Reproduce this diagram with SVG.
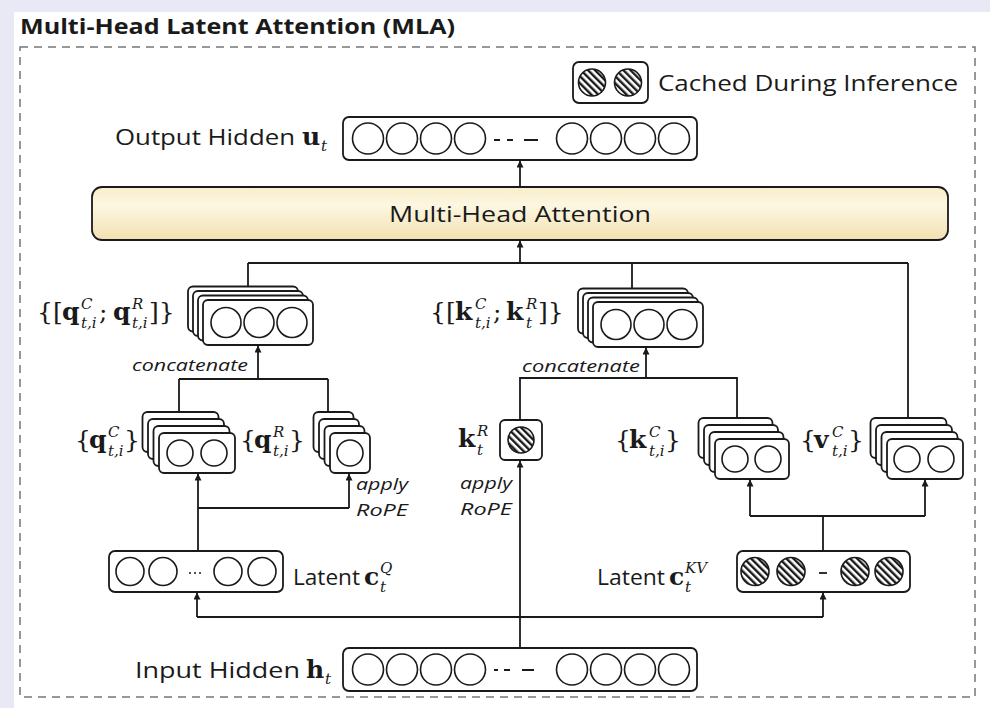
<svg xmlns="http://www.w3.org/2000/svg" width="990" height="708" viewBox="0 0 990 708">
<style>
.sans{font-family:"Open Sans","Noto Sans","Liberation Sans",sans-serif;fill:#1a1a1a}
.lbl{font-size:22px}
.it{font-style:italic;font-size:17px}
.m{font-family:"DejaVu Serif","Liberation Serif",serif;fill:#1a1a1a;font-size:25px}
.mb{font-weight:bold}
.s{font-family:"DejaVu Serif","Liberation Serif",serif;font-style:italic;font-size:15px;fill:#1a1a1a}
.box{fill:#fff;stroke:#1a1a1a;stroke-width:1.8}
.c{fill:#fff;stroke:#1a1a1a;stroke-width:1.6}
.h{fill:url(#hatch);stroke:#1a1a1a;stroke-width:1.6}
.ln{fill:none;stroke:#1a1a1a;stroke-width:1.8}
.ar{fill:none;stroke:#1a1a1a;stroke-width:1.8;marker-end:url(#ah)}
</style>
<defs>
<pattern id="hatch" patternUnits="userSpaceOnUse" width="5" height="5" patternTransform="rotate(-45)">
<rect width="5" height="5" fill="#fff"/>
<rect width="2.4" height="5" fill="#1a1a1a"/>
</pattern>
<marker id="ah" markerWidth="8" markerHeight="8" refX="7" refY="3.5" orient="auto" markerUnits="userSpaceOnUse">
<path d="M0,0 L7,3.5 L0,7 z" fill="#1a1a1a"/>
</marker>
<linearGradient id="mha" x1="0" y1="0" x2="0" y2="1">
<stop offset="0" stop-color="#f9eecb"/>
<stop offset="0.35" stop-color="#fdf7e2"/>
<stop offset="1" stop-color="#f2e0b0"/>
</linearGradient>
</defs>

<rect width="990" height="708" fill="#e9e8f5"/>
<rect x="14" y="12" width="976" height="696" fill="#fff"/>
<rect x="20" y="47" width="955" height="650" fill="none" stroke="#777" stroke-width="1.5" stroke-dasharray="8 6"/>
<text class="sans" x="20" y="34" font-weight="bold" font-size="22" textLength="435" lengthAdjust="spacingAndGlyphs">Multi-Head Latent Attention (MLA)</text>

<g id="legend">
<rect class="box" x="573" y="62" width="75" height="41" rx="6"/>
<circle class="h" cx="592" cy="82.5" r="13.5"/>
<circle class="h" cx="628" cy="82.5" r="13.5"/>
<text class="sans lbl" x="658" y="91" textLength="300" lengthAdjust="spacingAndGlyphs">Cached During Inference</text>
</g>

<g id="output-hidden">
<text class="sans lbl" x="115" y="145" textLength="180" lengthAdjust="spacingAndGlyphs">Output Hidden</text>
<text class="m mb" x="302" y="145">u</text>
<text class="s" x="321" y="151">t</text>
<rect class="box" x="343" y="117" width="354" height="43" rx="6"/>
<circle class="c" cx="368" cy="138.5" r="15.5"/>
<circle class="c" cx="402" cy="138.5" r="15.5"/>
<circle class="c" cx="436" cy="138.5" r="15.5"/>
<circle class="c" cx="470" cy="138.5" r="15.5"/>
<circle class="c" cx="572" cy="138.5" r="15.5"/>
<circle class="c" cx="606" cy="138.5" r="15.5"/>
<circle class="c" cx="640" cy="138.5" r="15.5"/>
<circle class="c" cx="674" cy="138.5" r="15.5"/>
<path class="ln" stroke-width="1.3" d="M494,140h6 M507,140h6 M524,140h14"/>
</g>

<g id="mha">
<rect x="92" y="187" width="856" height="53" rx="10" fill="url(#mha)" stroke="#1a1a1a" stroke-width="1.8"/>
<text class="sans lbl" x="520" y="222" text-anchor="middle" textLength="262" lengthAdjust="spacingAndGlyphs">Multi-Head Attention</text>
</g>

<g id="q-concat">
<rect class="box" x="188" y="286.5" width="110" height="45" rx="5"/>
<rect class="box" x="193" y="291" width="110" height="45" rx="5"/>
<rect class="box" x="198" y="295.5" width="110" height="45" rx="5"/>
<rect class="box" x="203" y="300" width="110" height="45" rx="5"/>
<circle class="c" cx="226" cy="322.5" r="15"/>
<circle class="c" cx="259" cy="322.5" r="15"/>
<circle class="c" cx="292" cy="322.5" r="15"/>
<text class="m" x="37" y="320">{[</text>
<text class="m mb" x="62" y="320">q</text>
<text class="s" x="81" y="309">C</text>
<text class="s" x="81" y="328">t,i</text>
<text class="m" x="99" y="320">;</text>
<text class="m mb" x="113" y="320">q</text>
<text class="s" x="132" y="309">R</text>
<text class="s" x="132" y="328">t,i</text>
<text class="m" x="149" y="320">]}</text>
</g>

<g id="k-concat">
<rect class="box" x="578" y="288.5" width="110" height="45" rx="5"/>
<rect class="box" x="583" y="293" width="110" height="45" rx="5"/>
<rect class="box" x="588" y="297.5" width="110" height="45" rx="5"/>
<rect class="box" x="593" y="302" width="110" height="45" rx="5"/>
<circle class="c" cx="616" cy="324.5" r="15"/>
<circle class="c" cx="649" cy="324.5" r="15"/>
<circle class="c" cx="682" cy="324.5" r="15"/>
<text class="m" x="430" y="320">{[</text>
<text class="m mb" x="455" y="320">k</text>
<text class="s" x="475" y="309">C</text>
<text class="s" x="475" y="328">t,i</text>
<text class="m" x="493" y="320">;</text>
<text class="m mb" x="506" y="320">k</text>
<text class="s" x="526" y="309">R</text>
<text class="s" x="526" y="328">t</text>
<text class="m" x="538" y="320">]}</text>
</g>

<g id="q-c">
<rect class="box" x="142.5" y="412" width="76" height="40" rx="5"/>
<rect class="box" x="148" y="419" width="76" height="40" rx="5"/>
<rect class="box" x="153.5" y="426" width="76" height="40" rx="5"/>
<rect class="box" x="159" y="433" width="76" height="40" rx="5"/>
<circle class="c" cx="180" cy="453" r="13"/>
<circle class="c" cx="214" cy="453" r="13"/>
<text class="m" x="75" y="448">{</text>
<text class="m mb" x="89" y="448">q</text>
<text class="s" x="108" y="437">C</text>
<text class="s" x="108" y="456">t,i</text>
<text class="m" x="124" y="448">}</text>
</g>

<g id="q-r">
<rect class="box" x="313.5" y="412" width="40" height="40" rx="5"/>
<rect class="box" x="319" y="419" width="40" height="40" rx="5"/>
<rect class="box" x="324.5" y="426" width="40" height="40" rx="5"/>
<rect class="box" x="330" y="433" width="40" height="40" rx="5"/>
<circle class="c" cx="350" cy="453" r="13"/>
<text class="m" x="240" y="448">{</text>
<text class="m mb" x="254" y="448">q</text>
<text class="s" x="273" y="437">R</text>
<text class="s" x="273" y="456">t,i</text>
<text class="m" x="289" y="448">}</text>
</g>

<g id="k-r">
<rect class="box" x="500" y="420" width="42" height="40" rx="5"/>
<circle class="h" cx="521" cy="440" r="13"/>
<text class="m mb" x="458" y="447">k</text>
<text class="s" x="477" y="436">R</text>
<text class="s" x="477" y="455">t</text>
</g>

<g id="k-c">
<rect class="box" x="698.5" y="418" width="74" height="40" rx="5"/>
<rect class="box" x="704" y="425" width="74" height="40" rx="5"/>
<rect class="box" x="709.5" y="432" width="74" height="40" rx="5"/>
<rect class="box" x="715" y="439" width="74" height="40" rx="5"/>
<circle class="c" cx="735" cy="459" r="13"/>
<circle class="c" cx="768" cy="459" r="13"/>
<text class="m" x="615" y="448">{</text>
<text class="m mb" x="629" y="448">k</text>
<text class="s" x="649" y="437">C</text>
<text class="s" x="649" y="456">t,i</text>
<text class="m" x="665" y="448">}</text>
</g>

<g id="v-c">
<rect class="box" x="870.5" y="418" width="76" height="40" rx="5"/>
<rect class="box" x="876" y="425" width="76" height="40" rx="5"/>
<rect class="box" x="881.5" y="432" width="76" height="40" rx="5"/>
<rect class="box" x="887" y="439" width="76" height="40" rx="5"/>
<circle class="c" cx="907" cy="459" r="13"/>
<circle class="c" cx="941" cy="459" r="13"/>
<text class="m" x="800" y="448">{</text>
<text class="m mb" x="814" y="448">v</text>
<text class="s" x="832" y="437">C</text>
<text class="s" x="832" y="456">t,i</text>
<text class="m" x="848" y="448">}</text>
</g>

<g id="latent-q">
<rect class="box" x="109" y="551" width="174" height="41" rx="6"/>
<circle class="c" cx="130" cy="571.5" r="14"/>
<circle class="c" cx="163" cy="571.5" r="14"/>
<circle class="c" cx="228" cy="571.5" r="14"/>
<circle class="c" cx="262" cy="571.5" r="14"/>
<circle cx="190" cy="573" r="1" fill="#1a1a1a"/>
<circle cx="195" cy="573" r="1" fill="#1a1a1a"/>
<circle cx="200" cy="573" r="1" fill="#1a1a1a"/>
<text class="sans lbl" x="293" y="585" textLength="67" lengthAdjust="spacingAndGlyphs">Latent</text>
<text class="m mb" x="364" y="585">c</text>
<text class="s" x="380" y="573">Q</text>
<text class="s" x="380" y="592">t</text>
</g>

<g id="latent-kv">
<rect class="box" x="737" y="551" width="173" height="41" rx="6"/>
<circle class="h" cx="755" cy="571.5" r="14"/>
<circle class="h" cx="791" cy="571.5" r="14"/>
<circle class="h" cx="855" cy="571.5" r="14"/>
<circle class="h" cx="889" cy="571.5" r="14"/>
<path class="ln" stroke-width="1.3" d="M819,573h8"/>
<text class="sans lbl" x="597" y="585" textLength="68" lengthAdjust="spacingAndGlyphs">Latent</text>
<text class="m mb" x="669" y="585">c</text>
<text class="s" x="685" y="573">KV</text>
<text class="s" x="685" y="592">t</text>
</g>

<g id="input-hidden">
<text class="sans lbl" x="135" y="678" textLength="165" lengthAdjust="spacingAndGlyphs">Input Hidden</text>
<text class="m mb" x="306" y="678">h</text>
<text class="s" x="325" y="684">t</text>
<rect class="box" x="343" y="648" width="354" height="43" rx="6"/>
<circle class="c" cx="368" cy="669.5" r="15.5"/>
<circle class="c" cx="402" cy="669.5" r="15.5"/>
<circle class="c" cx="436" cy="669.5" r="15.5"/>
<circle class="c" cx="470" cy="669.5" r="15.5"/>
<circle class="c" cx="572" cy="669.5" r="15.5"/>
<circle class="c" cx="606" cy="669.5" r="15.5"/>
<circle class="c" cx="640" cy="669.5" r="15.5"/>
<circle class="c" cx="674" cy="669.5" r="15.5"/>
<path class="ln" stroke-width="1.3" d="M494,670h4 M504,670h6 M522,670h12"/>
</g>

<g id="connectors">
<path class="ar" d="M520,187V160.5"/>
<path class="ar" d="M520,263V240.5"/>
<path class="ln" d="M248,263H908 M248,263V286.5 M632,263V288.5 M908,263V418"/>
<path class="ar" d="M258,379V345.5"/>
<path class="ln" d="M179,379H328 M179,379V412 M328,379V412"/>
<path class="ar" d="M198,552V473.5"/>
<path class="ln" d="M198,508H349"/>
<path class="ar" d="M349,508V473.5"/>
<path class="ln" d="M197,617H823"/>
<path class="ar" d="M197,617V592.5"/>
<path class="ar" d="M823,617V592.5"/>
<path class="ar" d="M520,648V460.5"/>
<path class="ln" d="M520,420V378H737V418"/>
<path class="ar" d="M646,378V347.5"/>
<path class="ln" d="M823,551V516 M750,516H925"/>
<path class="ar" d="M750,516V479.5"/>
<path class="ar" d="M925,516V479.5"/>
<text class="sans it" x="132" y="371" textLength="116" lengthAdjust="spacingAndGlyphs">concatenate</text>
<text class="sans it" x="522" y="372" textLength="118" lengthAdjust="spacingAndGlyphs">concatenate</text>
<text class="sans it" x="356" y="490" textLength="52" lengthAdjust="spacingAndGlyphs">apply</text>
<text class="sans it" x="356" y="516" textLength="52" lengthAdjust="spacingAndGlyphs">RoPE</text>
<text class="sans it" x="460" y="489" textLength="52" lengthAdjust="spacingAndGlyphs">apply</text>
<text class="sans it" x="460" y="515" textLength="52" lengthAdjust="spacingAndGlyphs">RoPE</text>
</g>
</svg>
